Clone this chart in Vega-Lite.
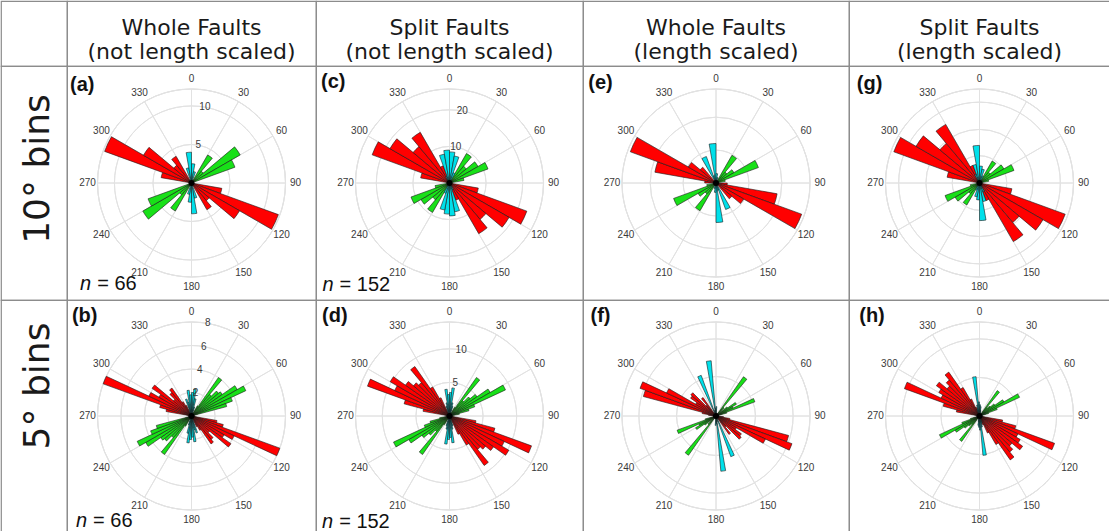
{
"$schema":"https://vega.github.io/schema/vega-lite/v6.json",
"padding":0,
"columns":5,
"spacing":0,
"bounds":"flush",
"resolve":{"scale":{"radius":"independent","theta":"independent"}},
"config":{"concat":{"spacing":0},"background":"white"},
"datasets":{
"angles":[{"ang":0,"lab":"0"},{"ang":30,"lab":"30"},{"ang":60,"lab":"60"},{"ang":90,"lab":"90"},{"ang":120,"lab":"120"},{"ang":150,"lab":"150"},{"ang":180,"lab":"180"},{"ang":210,"lab":"210"},{"ang":240,"lab":"240"},{"ang":270,"lab":"270"},{"ang":300,"lab":"300"},{"ang":330,"lab":"330"}],
"sectors":[{"ang":0,"ang2":30},{"ang":30,"ang2":60},{"ang":60,"ang2":90},{"ang":90,"ang2":120},{"ang":120,"ang2":150},{"ang":150,"ang2":180},{"ang":180,"ang2":210},{"ang":210,"ang2":240},{"ang":240,"ang2":270},{"ang":270,"ang2":300},{"ang":300,"ang2":330},{"ang":330,"ang2":360}],
"rings":[
{"p":"a","v":5,"lab":"5"},{"p":"a","v":10,"lab":"10"},{"p":"a","v":12.2,"lab":""},
{"p":"b","v":2,"lab":"2"},{"p":"b","v":4,"lab":"4"},{"p":"b","v":6,"lab":"6"},{"p":"b","v":8,"lab":"8"},
{"p":"c","v":10,"lab":"10"},{"p":"c","v":20,"lab":"20"},{"p":"c","v":25.7,"lab":""},
{"p":"d","v":5,"lab":"5"},{"p":"d","v":10,"lab":"10"},{"p":"d","v":14,"lab":""},
{"p":"e","v":0.35,"lab":""},{"p":"e","v":0.7,"lab":""},{"p":"e","v":1,"lab":""},
{"p":"f","v":0.42,"lab":""},{"p":"f","v":0.82,"lab":""},{"p":"f","v":1,"lab":""},
{"p":"g","v":0.29,"lab":""},{"p":"g","v":0.57,"lab":""},{"p":"g","v":0.86,"lab":""},{"p":"g","v":1,"lab":""},
{"p":"h","v":0.41,"lab":""},{"p":"h","v":0.82,"lab":""},{"p":"h","v":1,"lab":""}
],
"bars":[
{"p":"a","a0":280,"a1":290,"r":4,"c":"r"},{"p":"a","a0":290,"a1":300,"r":12,"c":"r"},{"p":"a","a0":300,"a1":310,"r":7.2,"c":"r"},{"p":"a","a0":310,"a1":320,"r":3,"c":"r"},{"p":"a","a0":320,"a1":330,"r":4,"c":"r"},
{"p":"a","a0":100,"a1":110,"r":4,"c":"r"},{"p":"a","a0":110,"a1":120,"r":12,"c":"r"},{"p":"a","a0":120,"a1":130,"r":7.2,"c":"r"},{"p":"a","a0":130,"a1":140,"r":3,"c":"r"},{"p":"a","a0":140,"a1":150,"r":4,"c":"r"},
{"p":"a","a0":30,"a1":40,"r":4.2,"c":"g"},{"p":"a","a0":40,"a1":50,"r":2,"c":"g"},{"p":"a","a0":50,"a1":60,"r":7.3,"c":"g"},{"p":"a","a0":60,"a1":70,"r":6,"c":"g"},
{"p":"a","a0":210,"a1":220,"r":4.2,"c":"g"},{"p":"a","a0":220,"a1":230,"r":2,"c":"g"},{"p":"a","a0":230,"a1":240,"r":7.3,"c":"g"},{"p":"a","a0":240,"a1":250,"r":6,"c":"g"},
{"p":"a","a0":340,"a1":350,"r":2,"c":"c"},{"p":"a","a0":350,"a1":360,"r":4,"c":"c"},{"p":"a","a0":0,"a1":10,"r":2.5,"c":"c"},{"p":"a","a0":10,"a1":20,"r":1.5,"c":"c"},
{"p":"a","a0":160,"a1":170,"r":2,"c":"c"},{"p":"a","a0":170,"a1":180,"r":4,"c":"c"},{"p":"a","a0":180,"a1":190,"r":2.5,"c":"c"},{"p":"a","a0":190,"a1":200,"r":1.5,"c":"c"},

{"p":"c","a0":280,"a1":290,"r":8,"c":"r"},{"p":"c","a0":290,"a1":300,"r":22.5,"c":"r"},{"p":"c","a0":300,"a1":310,"r":18.8,"c":"r"},{"p":"c","a0":310,"a1":320,"r":13,"c":"r"},{"p":"c","a0":320,"a1":330,"r":16,"c":"r"},{"p":"c","a0":330,"a1":340,"r":5,"c":"r"},
{"p":"c","a0":100,"a1":110,"r":8,"c":"r"},{"p":"c","a0":110,"a1":120,"r":22.5,"c":"r"},{"p":"c","a0":120,"a1":130,"r":18.8,"c":"r"},{"p":"c","a0":130,"a1":140,"r":13,"c":"r"},{"p":"c","a0":140,"a1":150,"r":16,"c":"r"},{"p":"c","a0":150,"a1":160,"r":5,"c":"r"},
{"p":"c","a0":30,"a1":40,"r":9.3,"c":"g"},{"p":"c","a0":40,"a1":50,"r":6,"c":"g"},{"p":"c","a0":50,"a1":60,"r":9,"c":"g"},{"p":"c","a0":60,"a1":70,"r":11.2,"c":"g"},{"p":"c","a0":70,"a1":80,"r":4,"c":"g"},
{"p":"c","a0":210,"a1":220,"r":9.3,"c":"g"},{"p":"c","a0":220,"a1":230,"r":6,"c":"g"},{"p":"c","a0":230,"a1":240,"r":9,"c":"g"},{"p":"c","a0":240,"a1":250,"r":11.2,"c":"g"},{"p":"c","a0":250,"a1":260,"r":4,"c":"g"},
{"p":"c","a0":330,"a1":340,"r":2,"c":"c"},{"p":"c","a0":340,"a1":350,"r":8,"c":"c"},{"p":"c","a0":350,"a1":360,"r":9,"c":"c"},{"p":"c","a0":0,"a1":10,"r":8.5,"c":"c"},{"p":"c","a0":10,"a1":20,"r":7.5,"c":"c"},{"p":"c","a0":20,"a1":30,"r":3,"c":"c"},
{"p":"c","a0":150,"a1":160,"r":2,"c":"c"},{"p":"c","a0":160,"a1":170,"r":8,"c":"c"},{"p":"c","a0":170,"a1":180,"r":9,"c":"c"},{"p":"c","a0":180,"a1":190,"r":8.5,"c":"c"},{"p":"c","a0":190,"a1":200,"r":7.5,"c":"c"},{"p":"c","a0":200,"a1":210,"r":3,"c":"c"},

{"p":"e","a0":270,"a1":280,"r":0.12,"c":"r"},{"p":"e","a0":280,"a1":290,"r":0.66,"c":"r"},{"p":"e","a0":290,"a1":300,"r":0.97,"c":"r"},{"p":"e","a0":300,"a1":310,"r":0.34,"c":"r"},{"p":"e","a0":310,"a1":320,"r":0.22,"c":"r"},
{"p":"e","a0":90,"a1":100,"r":0.12,"c":"r"},{"p":"e","a0":100,"a1":110,"r":0.66,"c":"r"},{"p":"e","a0":110,"a1":120,"r":0.97,"c":"r"},{"p":"e","a0":120,"a1":130,"r":0.34,"c":"r"},{"p":"e","a0":130,"a1":140,"r":0.22,"c":"r"},
{"p":"e","a0":30,"a1":40,"r":0.34,"c":"g"},{"p":"e","a0":40,"a1":50,"r":0.15,"c":"g"},{"p":"e","a0":50,"a1":60,"r":0.22,"c":"g"},{"p":"e","a0":60,"a1":70,"r":0.48,"c":"g"},{"p":"e","a0":70,"a1":80,"r":0.1,"c":"g"},
{"p":"e","a0":210,"a1":220,"r":0.34,"c":"g"},{"p":"e","a0":220,"a1":230,"r":0.15,"c":"g"},{"p":"e","a0":230,"a1":240,"r":0.22,"c":"g"},{"p":"e","a0":240,"a1":250,"r":0.48,"c":"g"},{"p":"e","a0":250,"a1":260,"r":0.1,"c":"g"},
{"p":"e","a0":330,"a1":340,"r":0.3,"c":"c"},{"p":"e","a0":340,"a1":350,"r":0.08,"c":"c"},{"p":"e","a0":350,"a1":360,"r":0.42,"c":"c"},{"p":"e","a0":0,"a1":10,"r":0.1,"c":"c"},{"p":"e","a0":10,"a1":20,"r":0.06,"c":"c"},
{"p":"e","a0":150,"a1":160,"r":0.3,"c":"c"},{"p":"e","a0":160,"a1":170,"r":0.08,"c":"c"},{"p":"e","a0":170,"a1":180,"r":0.42,"c":"c"},{"p":"e","a0":180,"a1":190,"r":0.1,"c":"c"},{"p":"e","a0":190,"a1":200,"r":0.06,"c":"c"},

{"p":"g","a0":280,"a1":290,"r":0.35,"c":"r"},{"p":"g","a0":290,"a1":300,"r":0.97,"c":"r"},{"p":"g","a0":300,"a1":310,"r":0.78,"c":"r"},{"p":"g","a0":310,"a1":320,"r":0.55,"c":"r"},{"p":"g","a0":320,"a1":330,"r":0.72,"c":"r"},{"p":"g","a0":330,"a1":340,"r":0.2,"c":"r"},
{"p":"g","a0":100,"a1":110,"r":0.35,"c":"r"},{"p":"g","a0":110,"a1":120,"r":0.97,"c":"r"},{"p":"g","a0":120,"a1":130,"r":0.78,"c":"r"},{"p":"g","a0":130,"a1":140,"r":0.55,"c":"r"},{"p":"g","a0":140,"a1":150,"r":0.72,"c":"r"},{"p":"g","a0":150,"a1":160,"r":0.2,"c":"r"},
{"p":"g","a0":30,"a1":40,"r":0.27,"c":"g"},{"p":"g","a0":40,"a1":50,"r":0.15,"c":"g"},{"p":"g","a0":50,"a1":60,"r":0.3,"c":"g"},{"p":"g","a0":60,"a1":70,"r":0.39,"c":"g"},{"p":"g","a0":70,"a1":80,"r":0.1,"c":"g"},
{"p":"g","a0":210,"a1":220,"r":0.27,"c":"g"},{"p":"g","a0":220,"a1":230,"r":0.15,"c":"g"},{"p":"g","a0":230,"a1":240,"r":0.3,"c":"g"},{"p":"g","a0":240,"a1":250,"r":0.39,"c":"g"},{"p":"g","a0":250,"a1":260,"r":0.1,"c":"g"},
{"p":"g","a0":330,"a1":340,"r":0.1,"c":"c"},{"p":"g","a0":340,"a1":350,"r":0.2,"c":"c"},{"p":"g","a0":350,"a1":360,"r":0.4,"c":"c"},{"p":"g","a0":0,"a1":10,"r":0.18,"c":"c"},{"p":"g","a0":10,"a1":20,"r":0.15,"c":"c"},{"p":"g","a0":20,"a1":30,"r":0.08,"c":"c"},
{"p":"g","a0":150,"a1":160,"r":0.1,"c":"c"},{"p":"g","a0":160,"a1":170,"r":0.2,"c":"c"},{"p":"g","a0":170,"a1":180,"r":0.4,"c":"c"},{"p":"g","a0":180,"a1":190,"r":0.18,"c":"c"},{"p":"g","a0":190,"a1":200,"r":0.15,"c":"c"},{"p":"g","a0":200,"a1":210,"r":0.08,"c":"c"},

{"p":"b","a0":280,"a1":285,"r":2.2,"c":"r"},{"p":"b","a0":285,"a1":290,"r":2.8,"c":"r"},{"p":"b","a0":290,"a1":295,"r":8,"c":"r"},{"p":"b","a0":295,"a1":300,"r":4,"c":"r"},{"p":"b","a0":300,"a1":305,"r":3.2,"c":"r"},{"p":"b","a0":305,"a1":310,"r":4.1,"c":"r"},{"p":"b","a0":310,"a1":315,"r":2,"c":"r"},{"p":"b","a0":315,"a1":320,"r":2.6,"c":"r"},{"p":"b","a0":320,"a1":325,"r":2.9,"c":"r"},{"p":"b","a0":325,"a1":330,"r":1.4,"c":"r"},{"p":"b","a0":330,"a1":335,"r":1,"c":"r"},
{"p":"b","a0":100,"a1":105,"r":2.2,"c":"r"},{"p":"b","a0":105,"a1":110,"r":2.8,"c":"r"},{"p":"b","a0":110,"a1":115,"r":8,"c":"r"},{"p":"b","a0":115,"a1":120,"r":4,"c":"r"},{"p":"b","a0":120,"a1":125,"r":3.2,"c":"r"},{"p":"b","a0":125,"a1":130,"r":4.1,"c":"r"},{"p":"b","a0":130,"a1":135,"r":2,"c":"r"},{"p":"b","a0":135,"a1":140,"r":2.6,"c":"r"},{"p":"b","a0":140,"a1":145,"r":2.9,"c":"r"},{"p":"b","a0":145,"a1":150,"r":1.4,"c":"r"},{"p":"b","a0":150,"a1":155,"r":1,"c":"r"},
{"p":"b","a0":30,"a1":35,"r":1,"c":"g"},{"p":"b","a0":35,"a1":40,"r":4,"c":"g"},{"p":"b","a0":40,"a1":45,"r":2.4,"c":"g"},{"p":"b","a0":45,"a1":50,"r":3,"c":"g"},{"p":"b","a0":50,"a1":55,"r":3.2,"c":"g"},{"p":"b","a0":55,"a1":60,"r":4.5,"c":"g"},{"p":"b","a0":60,"a1":65,"r":5.1,"c":"g"},{"p":"b","a0":65,"a1":70,"r":3.7,"c":"g"},{"p":"b","a0":70,"a1":75,"r":3.1,"c":"g"},
{"p":"b","a0":210,"a1":215,"r":1,"c":"g"},{"p":"b","a0":215,"a1":220,"r":4,"c":"g"},{"p":"b","a0":220,"a1":225,"r":2.4,"c":"g"},{"p":"b","a0":225,"a1":230,"r":3,"c":"g"},{"p":"b","a0":230,"a1":235,"r":3.2,"c":"g"},{"p":"b","a0":235,"a1":240,"r":4.5,"c":"g"},{"p":"b","a0":240,"a1":245,"r":5.1,"c":"g"},{"p":"b","a0":245,"a1":250,"r":3.7,"c":"g"},{"p":"b","a0":250,"a1":255,"r":3.1,"c":"g"},
{"p":"b","a0":340,"a1":345,"r":1.5,"c":"c"},{"p":"b","a0":345,"a1":350,"r":1.2,"c":"c"},{"p":"b","a0":350,"a1":355,"r":2.2,"c":"c"},{"p":"b","a0":355,"a1":360,"r":1.8,"c":"c"},{"p":"b","a0":0,"a1":5,"r":2,"c":"c"},{"p":"b","a0":5,"a1":10,"r":2.3,"c":"c"},{"p":"b","a0":10,"a1":15,"r":1.5,"c":"c"},{"p":"b","a0":15,"a1":20,"r":0.8,"c":"c"},
{"p":"b","a0":160,"a1":165,"r":1.5,"c":"c"},{"p":"b","a0":165,"a1":170,"r":1.2,"c":"c"},{"p":"b","a0":170,"a1":175,"r":2.2,"c":"c"},{"p":"b","a0":175,"a1":180,"r":1.8,"c":"c"},{"p":"b","a0":180,"a1":185,"r":2,"c":"c"},{"p":"b","a0":185,"a1":190,"r":2.3,"c":"c"},{"p":"b","a0":190,"a1":195,"r":1.5,"c":"c"},{"p":"b","a0":195,"a1":200,"r":0.8,"c":"c"},

{"p":"d","a0":280,"a1":285,"r":4,"c":"r"},{"p":"d","a0":285,"a1":290,"r":7,"c":"r"},{"p":"d","a0":290,"a1":295,"r":13,"c":"r"},{"p":"d","a0":295,"a1":300,"r":9,"c":"r"},{"p":"d","a0":300,"a1":305,"r":10.2,"c":"r"},{"p":"d","a0":305,"a1":310,"r":8,"c":"r"},{"p":"d","a0":310,"a1":315,"r":7,"c":"r"},{"p":"d","a0":315,"a1":320,"r":6.5,"c":"r"},{"p":"d","a0":320,"a1":325,"r":9,"c":"r"},{"p":"d","a0":325,"a1":330,"r":5,"c":"r"},{"p":"d","a0":330,"a1":335,"r":3,"c":"r"},
{"p":"d","a0":100,"a1":105,"r":4,"c":"r"},{"p":"d","a0":105,"a1":110,"r":7,"c":"r"},{"p":"d","a0":110,"a1":115,"r":13,"c":"r"},{"p":"d","a0":115,"a1":120,"r":9,"c":"r"},{"p":"d","a0":120,"a1":125,"r":10.2,"c":"r"},{"p":"d","a0":125,"a1":130,"r":8,"c":"r"},{"p":"d","a0":130,"a1":135,"r":7,"c":"r"},{"p":"d","a0":135,"a1":140,"r":6.5,"c":"r"},{"p":"d","a0":140,"a1":145,"r":9,"c":"r"},{"p":"d","a0":145,"a1":150,"r":5,"c":"r"},{"p":"d","a0":150,"a1":155,"r":3,"c":"r"},
{"p":"d","a0":30,"a1":35,"r":1.5,"c":"g"},{"p":"d","a0":35,"a1":40,"r":7,"c":"g"},{"p":"d","a0":40,"a1":45,"r":3,"c":"g"},{"p":"d","a0":45,"a1":50,"r":4,"c":"g"},{"p":"d","a0":50,"a1":55,"r":5,"c":"g"},{"p":"d","a0":55,"a1":60,"r":7,"c":"g"},{"p":"d","a0":60,"a1":65,"r":9.2,"c":"g"},{"p":"d","a0":65,"a1":70,"r":4,"c":"g"},{"p":"d","a0":70,"a1":75,"r":3,"c":"g"},{"p":"d","a0":75,"a1":80,"r":1.5,"c":"g"},
{"p":"d","a0":210,"a1":215,"r":1.5,"c":"g"},{"p":"d","a0":215,"a1":220,"r":7,"c":"g"},{"p":"d","a0":220,"a1":225,"r":3,"c":"g"},{"p":"d","a0":225,"a1":230,"r":4,"c":"g"},{"p":"d","a0":230,"a1":235,"r":5,"c":"g"},{"p":"d","a0":235,"a1":240,"r":7,"c":"g"},{"p":"d","a0":240,"a1":245,"r":9.2,"c":"g"},{"p":"d","a0":245,"a1":250,"r":4,"c":"g"},{"p":"d","a0":250,"a1":255,"r":3,"c":"g"},{"p":"d","a0":255,"a1":260,"r":1.5,"c":"g"},
{"p":"d","a0":340,"a1":345,"r":1.5,"c":"c"},{"p":"d","a0":345,"a1":350,"r":2,"c":"c"},{"p":"d","a0":350,"a1":355,"r":4,"c":"c"},{"p":"d","a0":355,"a1":360,"r":3.2,"c":"c"},{"p":"d","a0":0,"a1":5,"r":3.5,"c":"c"},{"p":"d","a0":5,"a1":10,"r":4.2,"c":"c"},{"p":"d","a0":10,"a1":15,"r":2,"c":"c"},{"p":"d","a0":15,"a1":20,"r":1.5,"c":"c"},
{"p":"d","a0":160,"a1":165,"r":1.5,"c":"c"},{"p":"d","a0":165,"a1":170,"r":2,"c":"c"},{"p":"d","a0":170,"a1":175,"r":4,"c":"c"},{"p":"d","a0":175,"a1":180,"r":3.2,"c":"c"},{"p":"d","a0":180,"a1":185,"r":3.5,"c":"c"},{"p":"d","a0":185,"a1":190,"r":4.2,"c":"c"},{"p":"d","a0":190,"a1":195,"r":2,"c":"c"},{"p":"d","a0":195,"a1":200,"r":1.5,"c":"c"},

{"p":"f","a0":275,"a1":280,"r":0.08,"c":"r"},{"p":"f","a0":280,"a1":285,"r":0.15,"c":"r"},{"p":"f","a0":285,"a1":290,"r":0.8,"c":"r"},{"p":"f","a0":290,"a1":295,"r":0.86,"c":"r"},{"p":"f","a0":295,"a1":300,"r":0.58,"c":"r"},{"p":"f","a0":300,"a1":305,"r":0.25,"c":"r"},{"p":"f","a0":305,"a1":310,"r":0.33,"c":"r"},{"p":"f","a0":310,"a1":315,"r":0.35,"c":"r"},{"p":"f","a0":315,"a1":320,"r":0.15,"c":"r"},{"p":"f","a0":320,"a1":325,"r":0.24,"c":"r"},
{"p":"f","a0":95,"a1":100,"r":0.08,"c":"r"},{"p":"f","a0":100,"a1":105,"r":0.15,"c":"r"},{"p":"f","a0":105,"a1":110,"r":0.8,"c":"r"},{"p":"f","a0":110,"a1":115,"r":0.86,"c":"r"},{"p":"f","a0":115,"a1":120,"r":0.58,"c":"r"},{"p":"f","a0":120,"a1":125,"r":0.25,"c":"r"},{"p":"f","a0":125,"a1":130,"r":0.33,"c":"r"},{"p":"f","a0":130,"a1":135,"r":0.35,"c":"r"},{"p":"f","a0":135,"a1":140,"r":0.15,"c":"r"},{"p":"f","a0":140,"a1":145,"r":0.24,"c":"r"},
{"p":"f","a0":35,"a1":40,"r":0.51,"c":"g"},{"p":"f","a0":40,"a1":45,"r":0.12,"c":"g"},{"p":"f","a0":50,"a1":55,"r":0.15,"c":"g"},{"p":"f","a0":55,"a1":60,"r":0.25,"c":"g"},{"p":"f","a0":60,"a1":65,"r":0.2,"c":"g"},{"p":"f","a0":65,"a1":70,"r":0.44,"c":"g"},{"p":"f","a0":70,"a1":75,"r":0.12,"c":"g"},
{"p":"f","a0":215,"a1":220,"r":0.51,"c":"g"},{"p":"f","a0":220,"a1":225,"r":0.12,"c":"g"},{"p":"f","a0":230,"a1":235,"r":0.15,"c":"g"},{"p":"f","a0":235,"a1":240,"r":0.25,"c":"g"},{"p":"f","a0":240,"a1":245,"r":0.2,"c":"g"},{"p":"f","a0":245,"a1":250,"r":0.44,"c":"g"},{"p":"f","a0":250,"a1":255,"r":0.12,"c":"g"},
{"p":"f","a0":335,"a1":340,"r":0.46,"c":"c"},{"p":"f","a0":345,"a1":350,"r":0.06,"c":"c"},{"p":"f","a0":350,"a1":355,"r":0.59,"c":"c"},{"p":"f","a0":355,"a1":360,"r":0.08,"c":"c"},{"p":"f","a0":0,"a1":5,"r":0.1,"c":"c"},
{"p":"f","a0":155,"a1":160,"r":0.46,"c":"c"},{"p":"f","a0":165,"a1":170,"r":0.06,"c":"c"},{"p":"f","a0":170,"a1":175,"r":0.59,"c":"c"},{"p":"f","a0":175,"a1":180,"r":0.08,"c":"c"},{"p":"f","a0":180,"a1":185,"r":0.1,"c":"c"},

{"p":"h","a0":280,"a1":285,"r":0.25,"c":"r"},{"p":"h","a0":285,"a1":290,"r":0.4,"c":"r"},{"p":"h","a0":290,"a1":295,"r":0.85,"c":"r"},{"p":"h","a0":295,"a1":300,"r":0.45,"c":"r"},{"p":"h","a0":300,"a1":305,"r":0.5,"c":"r"},{"p":"h","a0":305,"a1":310,"r":0.56,"c":"r"},{"p":"h","a0":310,"a1":315,"r":0.45,"c":"r"},{"p":"h","a0":315,"a1":320,"r":0.5,"c":"r"},{"p":"h","a0":320,"a1":325,"r":0.57,"c":"r"},{"p":"h","a0":325,"a1":330,"r":0.35,"c":"r"},{"p":"h","a0":330,"a1":335,"r":0.2,"c":"r"},{"p":"h","a0":335,"a1":340,"r":0.1,"c":"r"},
{"p":"h","a0":100,"a1":105,"r":0.25,"c":"r"},{"p":"h","a0":105,"a1":110,"r":0.4,"c":"r"},{"p":"h","a0":110,"a1":115,"r":0.85,"c":"r"},{"p":"h","a0":115,"a1":120,"r":0.45,"c":"r"},{"p":"h","a0":120,"a1":125,"r":0.5,"c":"r"},{"p":"h","a0":125,"a1":130,"r":0.56,"c":"r"},{"p":"h","a0":130,"a1":135,"r":0.45,"c":"r"},{"p":"h","a0":135,"a1":140,"r":0.5,"c":"r"},{"p":"h","a0":140,"a1":145,"r":0.57,"c":"r"},{"p":"h","a0":145,"a1":150,"r":0.35,"c":"r"},{"p":"h","a0":150,"a1":155,"r":0.2,"c":"r"},{"p":"h","a0":155,"a1":160,"r":0.1,"c":"r"},
{"p":"h","a0":35,"a1":40,"r":0.33,"c":"g"},{"p":"h","a0":40,"a1":45,"r":0.12,"c":"g"},{"p":"h","a0":45,"a1":50,"r":0.15,"c":"g"},{"p":"h","a0":50,"a1":55,"r":0.2,"c":"g"},{"p":"h","a0":55,"a1":60,"r":0.3,"c":"g"},{"p":"h","a0":60,"a1":65,"r":0.47,"c":"g"},{"p":"h","a0":65,"a1":70,"r":0.2,"c":"g"},{"p":"h","a0":70,"a1":75,"r":0.1,"c":"g"},
{"p":"h","a0":215,"a1":220,"r":0.33,"c":"g"},{"p":"h","a0":220,"a1":225,"r":0.12,"c":"g"},{"p":"h","a0":225,"a1":230,"r":0.15,"c":"g"},{"p":"h","a0":230,"a1":235,"r":0.2,"c":"g"},{"p":"h","a0":235,"a1":240,"r":0.3,"c":"g"},{"p":"h","a0":240,"a1":245,"r":0.47,"c":"g"},{"p":"h","a0":245,"a1":250,"r":0.2,"c":"g"},{"p":"h","a0":250,"a1":255,"r":0.1,"c":"g"},
{"p":"h","a0":340,"a1":345,"r":0.08,"c":"c"},{"p":"h","a0":345,"a1":350,"r":0.12,"c":"c"},{"p":"h","a0":350,"a1":355,"r":0.42,"c":"c"},{"p":"h","a0":355,"a1":360,"r":0.15,"c":"c"},{"p":"h","a0":0,"a1":5,"r":0.12,"c":"c"},{"p":"h","a0":5,"a1":10,"r":0.1,"c":"c"},{"p":"h","a0":10,"a1":15,"r":0.06,"c":"c"},
{"p":"h","a0":160,"a1":165,"r":0.08,"c":"c"},{"p":"h","a0":165,"a1":170,"r":0.12,"c":"c"},{"p":"h","a0":170,"a1":175,"r":0.42,"c":"c"},{"p":"h","a0":175,"a1":180,"r":0.15,"c":"c"},{"p":"h","a0":180,"a1":185,"r":0.12,"c":"c"},{"p":"h","a0":185,"a1":190,"r":0.1,"c":"c"},{"p":"h","a0":190,"a1":195,"r":0.06,"c":"c"}
]
},
"concat":[
 {"width":66,"height":65,"view":{"stroke":"#8c8c8c","strokeWidth":1.2},"data":{"values":[{"t":""}]},"mark":{"type":"text"},"encoding":{"text":{"field":"t"}}},
 {"width":249,"height":65,"view":{"stroke":"#8c8c8c","strokeWidth":1.2},"data":{"values":[{"t":"Whole Faults|(not length scaled)"}]},"mark":{"type":"text","lineBreak":"|","fontSize":22,"lineHeight":24,"font":"DejaVu Sans","fill":"#1a1a1a","dy":-6},"encoding":{"text":{"field":"t"}}},
 {"width":267,"height":65,"view":{"stroke":"#8c8c8c","strokeWidth":1.2},"data":{"values":[{"t":"Split Faults|(not length scaled)"}]},"mark":{"type":"text","lineBreak":"|","fontSize":22,"lineHeight":24,"font":"DejaVu Sans","fill":"#1a1a1a","dy":-6},"encoding":{"text":{"field":"t"}}},
 {"width":266,"height":65,"view":{"stroke":"#8c8c8c","strokeWidth":1.2},"data":{"values":[{"t":"Whole Faults|(length scaled)"}]},"mark":{"type":"text","lineBreak":"|","fontSize":22,"lineHeight":24,"font":"DejaVu Sans","fill":"#1a1a1a","dy":-6},"encoding":{"text":{"field":"t"}}},
 {"width":261,"height":65,"view":{"stroke":"#8c8c8c","strokeWidth":1.2},"data":{"values":[{"t":"Split Faults|(length scaled)"}]},"mark":{"type":"text","lineBreak":"|","fontSize":22,"lineHeight":24,"font":"DejaVu Sans","fill":"#1a1a1a","dy":-6},"encoding":{"text":{"field":"t"}}},

 {"width":66,"height":234,"view":{"stroke":"#8c8c8c","strokeWidth":1.2},"data":{"values":[{"t":"10° bins"}]},"mark":{"type":"text","angle":270,"fontSize":36,"font":"DejaVu Sans","fill":"#1a1a1a","dx":14,"dy":4},"encoding":{"text":{"field":"t"}}},
 {"width":249,"height":234,"view":{"stroke":"#8c8c8c","strokeWidth":1.2},"layer":[
  {"data":{"name":"sectors"},"mark":{"type":"arc","filled":false,"stroke":"#e2e2e2","strokeWidth":1},"encoding":{"theta":{"field":"ang","type":"quantitative","stack":null,"scale":{"domain":[0,360],"range":[0,6.283185307179586]}},"theta2":{"field":"ang2"},"radius":{"datum":12.2,"type":"quantitative","scale":{"type":"linear","domain":[0,12.2],"range":[0,94]}}}},
  {"data":{"name":"rings"},"transform":[{"filter":"datum.p==='a'"}],"mark":{"type":"arc","filled":false,"stroke":"#e2e2e2","strokeWidth":1},"encoding":{"theta":{"datum":0,"type":"quantitative","scale":{"domain":[0,360],"range":[0,6.283185307179586]}},"theta2":{"datum":360},"radius":{"field":"v","type":"quantitative","stack":null,"scale":{"type":"linear","domain":[0,12.2],"range":[0,94]}},"radius2":{"field":"v"}}},
  {"data":{"name":"bars"},"transform":[{"filter":"datum.p==='a'"}],"mark":{"type":"arc","stroke":"#1a1a1a","strokeWidth":0.6},"encoding":{"theta":{"field":"a0","type":"quantitative","stack":null,"scale":{"domain":[0,360],"range":[0,6.283185307179586]}},"theta2":{"field":"a1"},"radius":{"field":"r","type":"quantitative","stack":null,"scale":{"type":"linear","domain":[0,12.2],"range":[0,94]}},"color":{"field":"c","type":"nominal","scale":{"domain":["r","g","c"],"range":["#ff0000","#18e018","#00e0ea"]},"legend":null}}},
  {"data":{"values":[{"t":""}]},"mark":{"type":"arc","fill":"#000000"},"encoding":{"theta":{"datum":0,"type":"quantitative","scale":{"domain":[0,360],"range":[0,6.283185307179586]}},"theta2":{"datum":360},"radius":{"datum":0.39,"type":"quantitative","scale":{"type":"linear","domain":[0,12.2],"range":[0,94]}}}},
  {"data":{"name":"angles"},"mark":{"type":"text","radiusOffset":10,"fontSize":10,"font":"Liberation Sans","fill":"#3a3a3a"},"encoding":{"theta":{"field":"ang","type":"quantitative","stack":null,"scale":{"domain":[0,360],"range":[0,6.283185307179586]}},"radius":{"datum":12.2,"type":"quantitative","scale":{"type":"linear","domain":[0,12.2],"range":[0,94]}},"text":{"field":"lab"}}},
  {"data":{"name":"rings"},"transform":[{"filter":"datum.p==='a' && datum.lab!==''"}],"mark":{"type":"text","fontSize":10,"font":"Liberation Sans","fill":"#3a3a3a"},"encoding":{"theta":{"datum":10,"type":"quantitative","scale":{"domain":[0,360],"range":[0,6.283185307179586]}},"radius":{"field":"v","type":"quantitative","stack":null,"scale":{"type":"linear","domain":[0,12.2],"range":[0,94]}},"text":{"field":"lab"}}},
  {"data":{"values":[{"t":"(a)"}]},"mark":{"type":"text","radiusOffset":53,"fontSize":20,"fontWeight":"bold","font":"Liberation Sans","fill":"#111111"},"encoding":{"theta":{"datum":312,"type":"quantitative","scale":{"domain":[0,360],"range":[0,6.283185307179586]}},"radius":{"datum":12.2,"type":"quantitative","scale":{"type":"linear","domain":[0,12.2],"range":[0,94]}},"text":{"field":"t"}}},
  {"data":{"values":[{"t":"n"}]},"mark":{"type":"text","align":"right","dx":-3,"radiusOffset":46,"fontSize":20,"fontStyle":"italic","font":"Liberation Sans","fill":"#111111"},"encoding":{"theta":{"datum":224,"type":"quantitative","scale":{"domain":[0,360],"range":[0,6.283185307179586]}},"radius":{"datum":12.2,"type":"quantitative","scale":{"type":"linear","domain":[0,12.2],"range":[0,94]}},"text":{"field":"t"}}},
  {"data":{"values":[{"t":"= 66"}]},"mark":{"type":"text","align":"left","dx":3,"radiusOffset":46,"fontSize":20,"font":"Liberation Sans","fill":"#111111"},"encoding":{"theta":{"datum":224,"type":"quantitative","scale":{"domain":[0,360],"range":[0,6.283185307179586]}},"radius":{"datum":12.2,"type":"quantitative","scale":{"type":"linear","domain":[0,12.2],"range":[0,94]}},"text":{"field":"t"}}}
 ]},
 {"width":267,"height":234,"view":{"stroke":"#8c8c8c","strokeWidth":1.2},"layer":[
  {"data":{"name":"sectors"},"mark":{"type":"arc","filled":false,"stroke":"#e2e2e2","strokeWidth":1},"encoding":{"theta":{"field":"ang","type":"quantitative","stack":null,"scale":{"domain":[0,360],"range":[0,6.283185307179586]}},"theta2":{"field":"ang2"},"radius":{"datum":25.7,"type":"quantitative","scale":{"type":"linear","domain":[0,25.7],"range":[0,94]}}}},
  {"data":{"name":"rings"},"transform":[{"filter":"datum.p==='c'"}],"mark":{"type":"arc","filled":false,"stroke":"#e2e2e2","strokeWidth":1},"encoding":{"theta":{"datum":0,"type":"quantitative","scale":{"domain":[0,360],"range":[0,6.283185307179586]}},"theta2":{"datum":360},"radius":{"field":"v","type":"quantitative","stack":null,"scale":{"type":"linear","domain":[0,25.7],"range":[0,94]}},"radius2":{"field":"v"}}},
  {"data":{"name":"bars"},"transform":[{"filter":"datum.p==='c'"}],"mark":{"type":"arc","stroke":"#1a1a1a","strokeWidth":0.6},"encoding":{"theta":{"field":"a0","type":"quantitative","stack":null,"scale":{"domain":[0,360],"range":[0,6.283185307179586]}},"theta2":{"field":"a1"},"radius":{"field":"r","type":"quantitative","stack":null,"scale":{"type":"linear","domain":[0,25.7],"range":[0,94]}},"color":{"field":"c","type":"nominal","scale":{"domain":["r","g","c"],"range":["#ff0000","#18e018","#00e0ea"]},"legend":null}}},
  {"data":{"values":[{"t":""}]},"mark":{"type":"arc","fill":"#000000"},"encoding":{"theta":{"datum":0,"type":"quantitative","scale":{"domain":[0,360],"range":[0,6.283185307179586]}},"theta2":{"datum":360},"radius":{"datum":0.82,"type":"quantitative","scale":{"type":"linear","domain":[0,25.7],"range":[0,94]}}}},
  {"data":{"name":"angles"},"mark":{"type":"text","radiusOffset":10,"fontSize":10,"font":"Liberation Sans","fill":"#3a3a3a"},"encoding":{"theta":{"field":"ang","type":"quantitative","stack":null,"scale":{"domain":[0,360],"range":[0,6.283185307179586]}},"radius":{"datum":25.7,"type":"quantitative","scale":{"type":"linear","domain":[0,25.7],"range":[0,94]}},"text":{"field":"lab"}}},
  {"data":{"name":"rings"},"transform":[{"filter":"datum.p==='c' && datum.lab!==''"}],"mark":{"type":"text","fontSize":10,"font":"Liberation Sans","fill":"#3a3a3a"},"encoding":{"theta":{"datum":10,"type":"quantitative","scale":{"domain":[0,360],"range":[0,6.283185307179586]}},"radius":{"field":"v","type":"quantitative","stack":null,"scale":{"type":"linear","domain":[0,25.7],"range":[0,94]}},"text":{"field":"lab"}}},
  {"data":{"values":[{"t":"(c)"}]},"mark":{"type":"text","radiusOffset":60,"fontSize":20,"fontWeight":"bold","font":"Liberation Sans","fill":"#111111"},"encoding":{"theta":{"datum":311,"type":"quantitative","scale":{"domain":[0,360],"range":[0,6.283185307179586]}},"radius":{"datum":25.7,"type":"quantitative","scale":{"type":"linear","domain":[0,25.7],"range":[0,94]}},"text":{"field":"t"}}},
  {"data":{"values":[{"t":"n"}]},"mark":{"type":"text","align":"right","dx":-3,"radiusOffset":58,"fontSize":20,"fontStyle":"italic","font":"Liberation Sans","fill":"#111111"},"encoding":{"theta":{"datum":228,"type":"quantitative","scale":{"domain":[0,360],"range":[0,6.283185307179586]}},"radius":{"datum":25.7,"type":"quantitative","scale":{"type":"linear","domain":[0,25.7],"range":[0,94]}},"text":{"field":"t"}}},
  {"data":{"values":[{"t":"= 152"}]},"mark":{"type":"text","align":"left","dx":3,"radiusOffset":58,"fontSize":20,"font":"Liberation Sans","fill":"#111111"},"encoding":{"theta":{"datum":228,"type":"quantitative","scale":{"domain":[0,360],"range":[0,6.283185307179586]}},"radius":{"datum":25.7,"type":"quantitative","scale":{"type":"linear","domain":[0,25.7],"range":[0,94]}},"text":{"field":"t"}}}
 ]},
 {"width":266,"height":234,"view":{"stroke":"#8c8c8c","strokeWidth":1.2},"layer":[
  {"data":{"name":"sectors"},"mark":{"type":"arc","filled":false,"stroke":"#e2e2e2","strokeWidth":1},"encoding":{"theta":{"field":"ang","type":"quantitative","stack":null,"scale":{"domain":[0,360],"range":[0,6.283185307179586]}},"theta2":{"field":"ang2"},"radius":{"datum":1,"type":"quantitative","scale":{"type":"linear","domain":[0,1],"range":[0,94]}}}},
  {"data":{"name":"rings"},"transform":[{"filter":"datum.p==='e'"}],"mark":{"type":"arc","filled":false,"stroke":"#e2e2e2","strokeWidth":1},"encoding":{"theta":{"datum":0,"type":"quantitative","scale":{"domain":[0,360],"range":[0,6.283185307179586]}},"theta2":{"datum":360},"radius":{"field":"v","type":"quantitative","stack":null,"scale":{"type":"linear","domain":[0,1],"range":[0,94]}},"radius2":{"field":"v"}}},
  {"data":{"name":"bars"},"transform":[{"filter":"datum.p==='e'"}],"mark":{"type":"arc","stroke":"#1a1a1a","strokeWidth":0.6},"encoding":{"theta":{"field":"a0","type":"quantitative","stack":null,"scale":{"domain":[0,360],"range":[0,6.283185307179586]}},"theta2":{"field":"a1"},"radius":{"field":"r","type":"quantitative","stack":null,"scale":{"type":"linear","domain":[0,1],"range":[0,94]}},"color":{"field":"c","type":"nominal","scale":{"domain":["r","g","c"],"range":["#ff0000","#18e018","#00e0ea"]},"legend":null}}},
  {"data":{"values":[{"t":""}]},"mark":{"type":"arc","fill":"#000000"},"encoding":{"theta":{"datum":0,"type":"quantitative","scale":{"domain":[0,360],"range":[0,6.283185307179586]}},"theta2":{"datum":360},"radius":{"datum":0.032,"type":"quantitative","scale":{"type":"linear","domain":[0,1],"range":[0,94]}}}},
  {"data":{"name":"angles"},"mark":{"type":"text","radiusOffset":10,"fontSize":10,"font":"Liberation Sans","fill":"#3a3a3a"},"encoding":{"theta":{"field":"ang","type":"quantitative","stack":null,"scale":{"domain":[0,360],"range":[0,6.283185307179586]}},"radius":{"datum":1,"type":"quantitative","scale":{"type":"linear","domain":[0,1],"range":[0,94]}},"text":{"field":"lab"}}},
  {"data":{"values":[{"t":"(e)"}]},"mark":{"type":"text","radiusOffset":59,"fontSize":20,"fontWeight":"bold","font":"Liberation Sans","fill":"#111111"},"encoding":{"theta":{"datum":311,"type":"quantitative","scale":{"domain":[0,360],"range":[0,6.283185307179586]}},"radius":{"datum":1,"type":"quantitative","scale":{"type":"linear","domain":[0,1],"range":[0,94]}},"text":{"field":"t"}}}
 ]},
 {"width":261,"height":234,"view":{"stroke":"#8c8c8c","strokeWidth":1.2},"layer":[
  {"data":{"name":"sectors"},"mark":{"type":"arc","filled":false,"stroke":"#e2e2e2","strokeWidth":1},"encoding":{"theta":{"field":"ang","type":"quantitative","stack":null,"scale":{"domain":[0,360],"range":[0,6.283185307179586]}},"theta2":{"field":"ang2"},"radius":{"datum":1,"type":"quantitative","scale":{"type":"linear","domain":[0,1],"range":[0,94]}}}},
  {"data":{"name":"rings"},"transform":[{"filter":"datum.p==='g'"}],"mark":{"type":"arc","filled":false,"stroke":"#e2e2e2","strokeWidth":1},"encoding":{"theta":{"datum":0,"type":"quantitative","scale":{"domain":[0,360],"range":[0,6.283185307179586]}},"theta2":{"datum":360},"radius":{"field":"v","type":"quantitative","stack":null,"scale":{"type":"linear","domain":[0,1],"range":[0,94]}},"radius2":{"field":"v"}}},
  {"data":{"name":"bars"},"transform":[{"filter":"datum.p==='g'"}],"mark":{"type":"arc","stroke":"#1a1a1a","strokeWidth":0.6},"encoding":{"theta":{"field":"a0","type":"quantitative","stack":null,"scale":{"domain":[0,360],"range":[0,6.283185307179586]}},"theta2":{"field":"a1"},"radius":{"field":"r","type":"quantitative","stack":null,"scale":{"type":"linear","domain":[0,1],"range":[0,94]}},"color":{"field":"c","type":"nominal","scale":{"domain":["r","g","c"],"range":["#ff0000","#18e018","#00e0ea"]},"legend":null}}},
  {"data":{"values":[{"t":""}]},"mark":{"type":"arc","fill":"#000000"},"encoding":{"theta":{"datum":0,"type":"quantitative","scale":{"domain":[0,360],"range":[0,6.283185307179586]}},"theta2":{"datum":360},"radius":{"datum":0.032,"type":"quantitative","scale":{"type":"linear","domain":[0,1],"range":[0,94]}}}},
  {"data":{"name":"angles"},"mark":{"type":"text","radiusOffset":10,"fontSize":10,"font":"Liberation Sans","fill":"#3a3a3a"},"encoding":{"theta":{"field":"ang","type":"quantitative","stack":null,"scale":{"domain":[0,360],"range":[0,6.283185307179586]}},"radius":{"datum":1,"type":"quantitative","scale":{"type":"linear","domain":[0,1],"range":[0,94]}},"text":{"field":"lab"}}},
  {"data":{"values":[{"t":"(g)"}]},"mark":{"type":"text","radiusOffset":54,"fontSize":20,"fontWeight":"bold","font":"Liberation Sans","fill":"#111111"},"encoding":{"theta":{"datum":312,"type":"quantitative","scale":{"domain":[0,360],"range":[0,6.283185307179586]}},"radius":{"datum":1,"type":"quantitative","scale":{"type":"linear","domain":[0,1],"range":[0,94]}},"text":{"field":"t"}}}
 ]},

 {"width":66,"height":232,"view":{"stroke":"#8c8c8c","strokeWidth":1.2},"data":{"values":[{"t":"5° bins"}]},"mark":{"type":"text","angle":270,"fontSize":36,"font":"DejaVu Sans","fill":"#1a1a1a","dx":30,"dy":4},"encoding":{"text":{"field":"t"}}},
 {"width":249,"height":232,"view":{"stroke":"#8c8c8c","strokeWidth":1.2},"layer":[
  {"data":{"name":"sectors"},"mark":{"type":"arc","filled":false,"stroke":"#e2e2e2","strokeWidth":1},"encoding":{"theta":{"field":"ang","type":"quantitative","stack":null,"scale":{"domain":[0,360],"range":[0,6.283185307179586]}},"theta2":{"field":"ang2"},"radius":{"datum":8,"type":"quantitative","scale":{"type":"linear","domain":[0,8],"range":[0,94]}}}},
  {"data":{"name":"rings"},"transform":[{"filter":"datum.p==='b'"}],"mark":{"type":"arc","filled":false,"stroke":"#e2e2e2","strokeWidth":1},"encoding":{"theta":{"datum":0,"type":"quantitative","scale":{"domain":[0,360],"range":[0,6.283185307179586]}},"theta2":{"datum":360},"radius":{"field":"v","type":"quantitative","stack":null,"scale":{"type":"linear","domain":[0,8],"range":[0,94]}},"radius2":{"field":"v"}}},
  {"data":{"name":"bars"},"transform":[{"filter":"datum.p==='b'"}],"mark":{"type":"arc","stroke":"#1a1a1a","strokeWidth":0.6},"encoding":{"theta":{"field":"a0","type":"quantitative","stack":null,"scale":{"domain":[0,360],"range":[0,6.283185307179586]}},"theta2":{"field":"a1"},"radius":{"field":"r","type":"quantitative","stack":null,"scale":{"type":"linear","domain":[0,8],"range":[0,94]}},"color":{"field":"c","type":"nominal","scale":{"domain":["r","g","c"],"range":["#ff0000","#18e018","#00e0ea"]},"legend":null}}},
  {"data":{"values":[{"t":""}]},"mark":{"type":"arc","fill":"#000000"},"encoding":{"theta":{"datum":0,"type":"quantitative","scale":{"domain":[0,360],"range":[0,6.283185307179586]}},"theta2":{"datum":360},"radius":{"datum":0.26,"type":"quantitative","scale":{"type":"linear","domain":[0,8],"range":[0,94]}}}},
  {"data":{"name":"angles"},"mark":{"type":"text","radiusOffset":10,"fontSize":10,"font":"Liberation Sans","fill":"#3a3a3a"},"encoding":{"theta":{"field":"ang","type":"quantitative","stack":null,"scale":{"domain":[0,360],"range":[0,6.283185307179586]}},"radius":{"datum":8,"type":"quantitative","scale":{"type":"linear","domain":[0,8],"range":[0,94]}},"text":{"field":"lab"}}},
  {"data":{"name":"rings"},"transform":[{"filter":"datum.p==='b' && datum.lab!==''"}],"mark":{"type":"text","fontSize":10,"font":"Liberation Sans","fill":"#3a3a3a"},"encoding":{"theta":{"datum":10,"type":"quantitative","scale":{"domain":[0,360],"range":[0,6.283185307179586]}},"radius":{"field":"v","type":"quantitative","stack":null,"scale":{"type":"linear","domain":[0,8],"range":[0,94]}},"text":{"field":"lab"}}},
  {"data":{"values":[{"t":"(b)"}]},"mark":{"type":"text","radiusOffset":52,"fontSize":20,"fontWeight":"bold","font":"Liberation Sans","fill":"#111111"},"encoding":{"theta":{"datum":313,"type":"quantitative","scale":{"domain":[0,360],"range":[0,6.283185307179586]}},"radius":{"datum":8,"type":"quantitative","scale":{"type":"linear","domain":[0,8],"range":[0,94]}},"text":{"field":"t"}}},
  {"data":{"values":[{"t":"n"}]},"mark":{"type":"text","align":"right","dx":-3,"radiusOffset":52,"fontSize":20,"fontStyle":"italic","font":"Liberation Sans","fill":"#111111"},"encoding":{"theta":{"datum":224,"type":"quantitative","scale":{"domain":[0,360],"range":[0,6.283185307179586]}},"radius":{"datum":8,"type":"quantitative","scale":{"type":"linear","domain":[0,8],"range":[0,94]}},"text":{"field":"t"}}},
  {"data":{"values":[{"t":"= 66"}]},"mark":{"type":"text","align":"left","dx":3,"radiusOffset":52,"fontSize":20,"font":"Liberation Sans","fill":"#111111"},"encoding":{"theta":{"datum":224,"type":"quantitative","scale":{"domain":[0,360],"range":[0,6.283185307179586]}},"radius":{"datum":8,"type":"quantitative","scale":{"type":"linear","domain":[0,8],"range":[0,94]}},"text":{"field":"t"}}}
 ]},
 {"width":267,"height":232,"view":{"stroke":"#8c8c8c","strokeWidth":1.2},"layer":[
  {"data":{"name":"sectors"},"mark":{"type":"arc","filled":false,"stroke":"#e2e2e2","strokeWidth":1},"encoding":{"theta":{"field":"ang","type":"quantitative","stack":null,"scale":{"domain":[0,360],"range":[0,6.283185307179586]}},"theta2":{"field":"ang2"},"radius":{"datum":14,"type":"quantitative","scale":{"type":"linear","domain":[0,14],"range":[0,94]}}}},
  {"data":{"name":"rings"},"transform":[{"filter":"datum.p==='d'"}],"mark":{"type":"arc","filled":false,"stroke":"#e2e2e2","strokeWidth":1},"encoding":{"theta":{"datum":0,"type":"quantitative","scale":{"domain":[0,360],"range":[0,6.283185307179586]}},"theta2":{"datum":360},"radius":{"field":"v","type":"quantitative","stack":null,"scale":{"type":"linear","domain":[0,14],"range":[0,94]}},"radius2":{"field":"v"}}},
  {"data":{"name":"bars"},"transform":[{"filter":"datum.p==='d'"}],"mark":{"type":"arc","stroke":"#1a1a1a","strokeWidth":0.6},"encoding":{"theta":{"field":"a0","type":"quantitative","stack":null,"scale":{"domain":[0,360],"range":[0,6.283185307179586]}},"theta2":{"field":"a1"},"radius":{"field":"r","type":"quantitative","stack":null,"scale":{"type":"linear","domain":[0,14],"range":[0,94]}},"color":{"field":"c","type":"nominal","scale":{"domain":["r","g","c"],"range":["#ff0000","#18e018","#00e0ea"]},"legend":null}}},
  {"data":{"values":[{"t":""}]},"mark":{"type":"arc","fill":"#000000"},"encoding":{"theta":{"datum":0,"type":"quantitative","scale":{"domain":[0,360],"range":[0,6.283185307179586]}},"theta2":{"datum":360},"radius":{"datum":0.45,"type":"quantitative","scale":{"type":"linear","domain":[0,14],"range":[0,94]}}}},
  {"data":{"name":"angles"},"mark":{"type":"text","radiusOffset":10,"fontSize":10,"font":"Liberation Sans","fill":"#3a3a3a"},"encoding":{"theta":{"field":"ang","type":"quantitative","stack":null,"scale":{"domain":[0,360],"range":[0,6.283185307179586]}},"radius":{"datum":14,"type":"quantitative","scale":{"type":"linear","domain":[0,14],"range":[0,94]}},"text":{"field":"lab"}}},
  {"data":{"name":"rings"},"transform":[{"filter":"datum.p==='d' && datum.lab!==''"}],"mark":{"type":"text","fontSize":10,"font":"Liberation Sans","fill":"#3a3a3a"},"encoding":{"theta":{"datum":10,"type":"quantitative","scale":{"domain":[0,360],"range":[0,6.283185307179586]}},"radius":{"field":"v","type":"quantitative","stack":null,"scale":{"type":"linear","domain":[0,14],"range":[0,94]}},"text":{"field":"lab"}}},
  {"data":{"values":[{"t":"(d)"}]},"mark":{"type":"text","radiusOffset":58,"fontSize":20,"fontWeight":"bold","font":"Liberation Sans","fill":"#111111"},"encoding":{"theta":{"datum":311,"type":"quantitative","scale":{"domain":[0,360],"range":[0,6.283185307179586]}},"radius":{"datum":14,"type":"quantitative","scale":{"type":"linear","domain":[0,14],"range":[0,94]}},"text":{"field":"t"}}},
  {"data":{"values":[{"t":"n"}]},"mark":{"type":"text","align":"right","dx":-3,"radiusOffset":61,"fontSize":20,"fontStyle":"italic","font":"Liberation Sans","fill":"#111111"},"encoding":{"theta":{"datum":227,"type":"quantitative","scale":{"domain":[0,360],"range":[0,6.283185307179586]}},"radius":{"datum":14,"type":"quantitative","scale":{"type":"linear","domain":[0,14],"range":[0,94]}},"text":{"field":"t"}}},
  {"data":{"values":[{"t":"= 152"}]},"mark":{"type":"text","align":"left","dx":3,"radiusOffset":61,"fontSize":20,"font":"Liberation Sans","fill":"#111111"},"encoding":{"theta":{"datum":227,"type":"quantitative","scale":{"domain":[0,360],"range":[0,6.283185307179586]}},"radius":{"datum":14,"type":"quantitative","scale":{"type":"linear","domain":[0,14],"range":[0,94]}},"text":{"field":"t"}}}
 ]},
 {"width":266,"height":232,"view":{"stroke":"#8c8c8c","strokeWidth":1.2},"layer":[
  {"data":{"name":"sectors"},"mark":{"type":"arc","filled":false,"stroke":"#e2e2e2","strokeWidth":1},"encoding":{"theta":{"field":"ang","type":"quantitative","stack":null,"scale":{"domain":[0,360],"range":[0,6.283185307179586]}},"theta2":{"field":"ang2"},"radius":{"datum":1,"type":"quantitative","scale":{"type":"linear","domain":[0,1],"range":[0,94]}}}},
  {"data":{"name":"rings"},"transform":[{"filter":"datum.p==='f'"}],"mark":{"type":"arc","filled":false,"stroke":"#e2e2e2","strokeWidth":1},"encoding":{"theta":{"datum":0,"type":"quantitative","scale":{"domain":[0,360],"range":[0,6.283185307179586]}},"theta2":{"datum":360},"radius":{"field":"v","type":"quantitative","stack":null,"scale":{"type":"linear","domain":[0,1],"range":[0,94]}},"radius2":{"field":"v"}}},
  {"data":{"name":"bars"},"transform":[{"filter":"datum.p==='f'"}],"mark":{"type":"arc","stroke":"#1a1a1a","strokeWidth":0.6},"encoding":{"theta":{"field":"a0","type":"quantitative","stack":null,"scale":{"domain":[0,360],"range":[0,6.283185307179586]}},"theta2":{"field":"a1"},"radius":{"field":"r","type":"quantitative","stack":null,"scale":{"type":"linear","domain":[0,1],"range":[0,94]}},"color":{"field":"c","type":"nominal","scale":{"domain":["r","g","c"],"range":["#ff0000","#18e018","#00e0ea"]},"legend":null}}},
  {"data":{"values":[{"t":""}]},"mark":{"type":"arc","fill":"#000000"},"encoding":{"theta":{"datum":0,"type":"quantitative","scale":{"domain":[0,360],"range":[0,6.283185307179586]}},"theta2":{"datum":360},"radius":{"datum":0.032,"type":"quantitative","scale":{"type":"linear","domain":[0,1],"range":[0,94]}}}},
  {"data":{"name":"angles"},"mark":{"type":"text","radiusOffset":10,"fontSize":10,"font":"Liberation Sans","fill":"#3a3a3a"},"encoding":{"theta":{"field":"ang","type":"quantitative","stack":null,"scale":{"domain":[0,360],"range":[0,6.283185307179586]}},"radius":{"datum":1,"type":"quantitative","scale":{"type":"linear","domain":[0,1],"range":[0,94]}},"text":{"field":"lab"}}},
  {"data":{"values":[{"t":"(f)"}]},"mark":{"type":"text","radiusOffset":59,"fontSize":20,"fontWeight":"bold","font":"Liberation Sans","fill":"#111111"},"encoding":{"theta":{"datum":311,"type":"quantitative","scale":{"domain":[0,360],"range":[0,6.283185307179586]}},"radius":{"datum":1,"type":"quantitative","scale":{"type":"linear","domain":[0,1],"range":[0,94]}},"text":{"field":"t"}}}
 ]},
 {"width":261,"height":232,"view":{"stroke":"#8c8c8c","strokeWidth":1.2},"layer":[
  {"data":{"name":"sectors"},"mark":{"type":"arc","filled":false,"stroke":"#e2e2e2","strokeWidth":1},"encoding":{"theta":{"field":"ang","type":"quantitative","stack":null,"scale":{"domain":[0,360],"range":[0,6.283185307179586]}},"theta2":{"field":"ang2"},"radius":{"datum":1,"type":"quantitative","scale":{"type":"linear","domain":[0,1],"range":[0,94]}}}},
  {"data":{"name":"rings"},"transform":[{"filter":"datum.p==='h'"}],"mark":{"type":"arc","filled":false,"stroke":"#e2e2e2","strokeWidth":1},"encoding":{"theta":{"datum":0,"type":"quantitative","scale":{"domain":[0,360],"range":[0,6.283185307179586]}},"theta2":{"datum":360},"radius":{"field":"v","type":"quantitative","stack":null,"scale":{"type":"linear","domain":[0,1],"range":[0,94]}},"radius2":{"field":"v"}}},
  {"data":{"name":"bars"},"transform":[{"filter":"datum.p==='h'"}],"mark":{"type":"arc","stroke":"#1a1a1a","strokeWidth":0.6},"encoding":{"theta":{"field":"a0","type":"quantitative","stack":null,"scale":{"domain":[0,360],"range":[0,6.283185307179586]}},"theta2":{"field":"a1"},"radius":{"field":"r","type":"quantitative","stack":null,"scale":{"type":"linear","domain":[0,1],"range":[0,94]}},"color":{"field":"c","type":"nominal","scale":{"domain":["r","g","c"],"range":["#ff0000","#18e018","#00e0ea"]},"legend":null}}},
  {"data":{"values":[{"t":""}]},"mark":{"type":"arc","fill":"#000000"},"encoding":{"theta":{"datum":0,"type":"quantitative","scale":{"domain":[0,360],"range":[0,6.283185307179586]}},"theta2":{"datum":360},"radius":{"datum":0.032,"type":"quantitative","scale":{"type":"linear","domain":[0,1],"range":[0,94]}}}},
  {"data":{"name":"angles"},"mark":{"type":"text","radiusOffset":10,"fontSize":10,"font":"Liberation Sans","fill":"#3a3a3a"},"encoding":{"theta":{"field":"ang","type":"quantitative","stack":null,"scale":{"domain":[0,360],"range":[0,6.283185307179586]}},"radius":{"datum":1,"type":"quantitative","scale":{"type":"linear","domain":[0,1],"range":[0,94]}},"text":{"field":"lab"}}},
  {"data":{"values":[{"t":"(h)"}]},"mark":{"type":"text","radiusOffset":53,"fontSize":20,"fontWeight":"bold","font":"Liberation Sans","fill":"#111111"},"encoding":{"theta":{"datum":313,"type":"quantitative","scale":{"domain":[0,360],"range":[0,6.283185307179586]}},"radius":{"datum":1,"type":"quantitative","scale":{"type":"linear","domain":[0,1],"range":[0,94]}},"text":{"field":"t"}}}
 ]}
]
}
